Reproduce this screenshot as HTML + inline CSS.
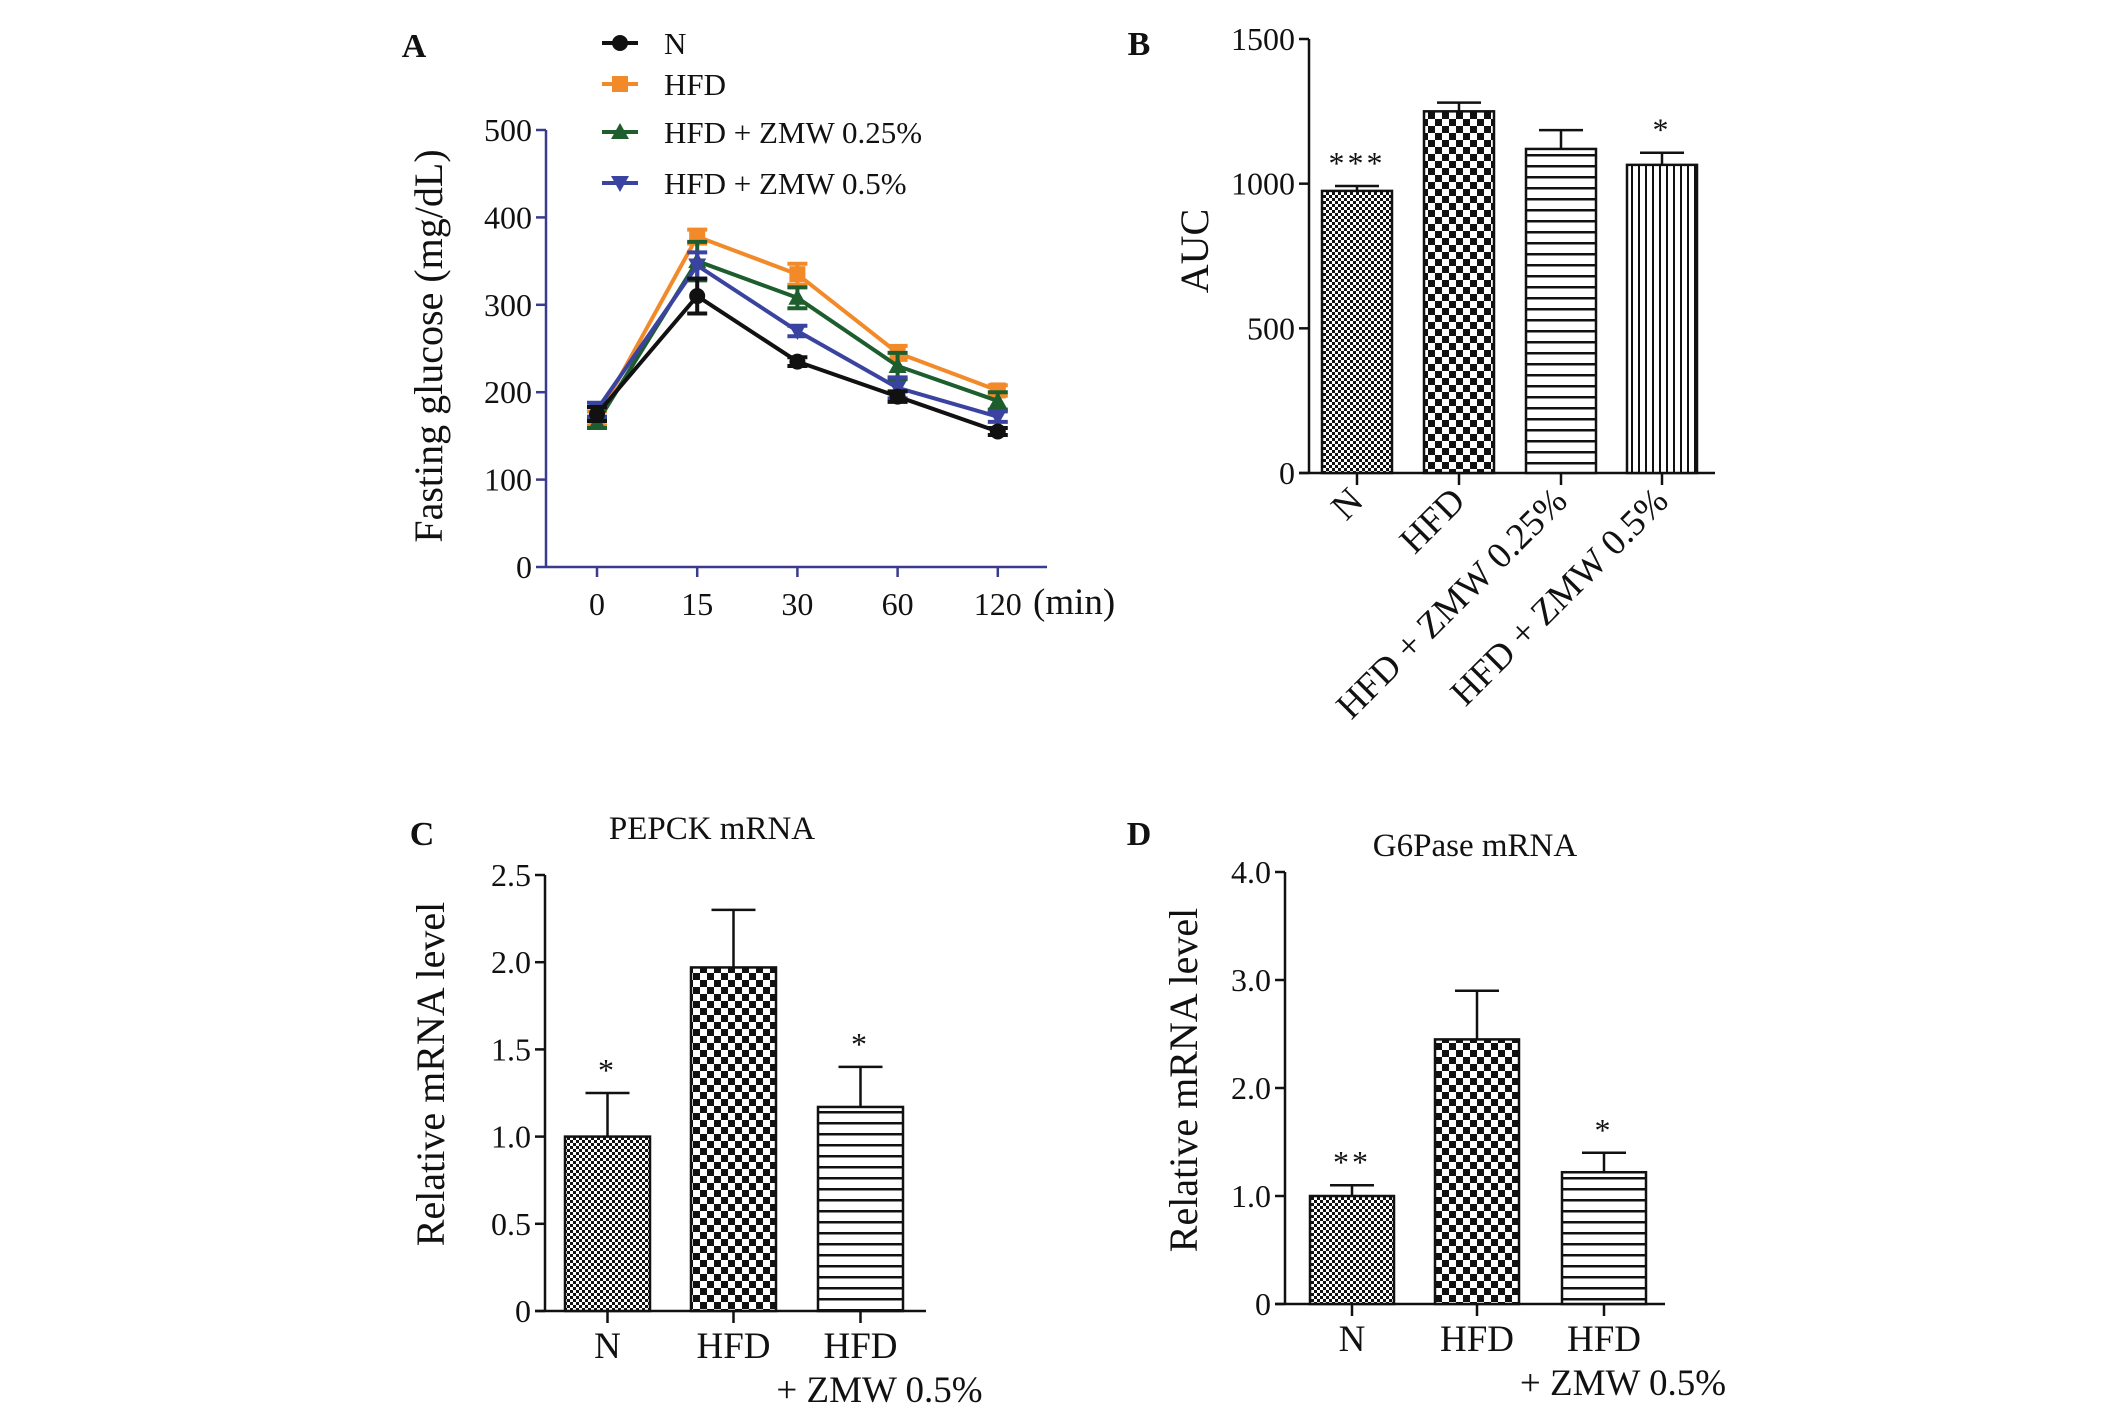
<!DOCTYPE html>
<html><head><meta charset="utf-8"><style>
html,body{margin:0;padding:0;background:#fff;}
svg{display:block;font-family:"Liberation Serif",serif;}
</style></head><body>
<svg id="fig" width="2126" height="1409" viewBox="0 0 2126 1409" xmlns="http://www.w3.org/2000/svg">
<defs>
<pattern id="pN" width="6" height="6" patternUnits="userSpaceOnUse"><rect width="6" height="6" fill="#fff"/><rect width="3" height="3" fill="#111"/><rect x="3" y="3" width="3" height="3" fill="#111"/></pattern>
<pattern id="pH" width="14" height="14" patternUnits="userSpaceOnUse"><rect width="14" height="14" fill="#fff"/><rect width="7" height="7" fill="#111"/><rect x="7" y="7" width="7" height="7" fill="#111"/></pattern>
<pattern id="pHz" width="10" height="11" patternUnits="userSpaceOnUse"><rect width="10" height="11" fill="#fff"/><rect y="0" width="10" height="2.5" fill="#111"/></pattern>
<pattern id="pV" width="7" height="10" patternUnits="userSpaceOnUse"><rect width="7" height="10" fill="#fff"/><rect x="0" width="2" height="10" fill="#111"/></pattern>
</defs>
</svg>
<script>
// Panel A data
const timeLabels = ["0","15","30","60","120"];
const seriesNames = ["N","HFD","HFD + ZMW 0.25%","HFD + ZMW 0.5%"];
const glucoseN = [175,310,235,195,155];
const glucoseHFD = [170,378,335,245,202];
const glucoseZ025 = [165,350,308,230,190];
const glucoseZ05 = [180,345,270,205,172];
const errN = [8,20,5,6,4];
const errHFD = [8,8,12,8,6];
const errZ025 = [6,22,12,15,10];
const errZ05 = [8,15,6,12,6];
const aTicks = [0,100,200,300,400,500];
// Panel B data
const aucCats = ["N","HFD","HFD + ZMW 0.25%","HFD + ZMW 0.5%"];
const aucVals = [975,1250,1120,1065];
const aucErr = [17,30,65,42];
const aucSig = ["***","","","*"];
const bTicks = [0,500,1000,1500];
// Panel C data
const pepCats = ["N","HFD","HFD|+ ZMW 0.5%"];
const pepVals = [1.0,1.97,1.17];
const pepErr = [0.25,0.33,0.23];
const pepSig = ["*","","*"];
const cTicks = ["0","0.5","1.0","1.5","2.0","2.5"];
// Panel D data
const g6Cats = ["N","HFD","HFD|+ ZMW 0.5%"];
const g6Vals = [1.0,2.45,1.22];
const g6Err = [0.1,0.45,0.18];
const g6Sig = ["**","","*"];
const dTicks = ["0","1.0","2.0","3.0","4.0"];

const svg = document.getElementById('fig');
const NS = "http://www.w3.org/2000/svg";
function mk(tag, attrs, parent){const e=document.createElementNS(NS,tag);for(const k in attrs)e.setAttribute(k,attrs[k]);(parent||svg).appendChild(e);return e;}
function txt(s, x, y, size, anchor, name, extra){const t=mk('text',Object.assign({x:x,y:y,'font-size':size,'text-anchor':anchor||'middle',fill:'#111'},extra||{}));t.textContent=s;


return t;}

const TICK=32, TITLE=40, XL=37;
// panel letters
txt("A",414,57,34,'middle','panel-label-a',{'font-weight':'bold'});
txt("B",1139,55,34,'middle','panel-label-b',{'font-weight':'bold'});
txt("C",422,845,34,'middle','panel-label-c',{'font-weight':'bold'});
txt("D",1139,845,34,'middle','panel-label-d',{'font-weight':'bold'});

// ---------- Panel A ----------
const aX0=546, aX1=1047, aYtop=130, aYbot=567;
const ay = v => aYbot - (v/500)*(aYbot-aYtop);
const aXs = [597,697,796,896,998];
const ax = i => aXs[0] + i*100.2;
const blue="#3a3a8e";
let l=mk('line',{x1:aX0,y1:aYtop,x2:aX0,y2:aYbot,stroke:blue,'stroke-width':2.5});


l=mk('line',{x1:aX0,y1:aYbot,x2:aX1,y2:aYbot,stroke:blue,'stroke-width':2.5});


aTicks.forEach(v=>{mk('line',{x1:aX0-10,y1:ay(v),x2:aX0,y2:ay(v),stroke:blue,'stroke-width':2.5});
txt(String(v),aX0-14,ay(v)+11,TICK,'end','a-y-tick-label');});
timeLabels.forEach((s,i)=>{mk('line',{x1:ax(i),y1:aYbot,x2:ax(i),y2:aYbot+10,stroke:blue,'stroke-width':2.5});
txt(s,ax(i),aYbot+48,TICK,'middle','a-x-tick-label');});
txt("(min)",1033,614,XL,'start','a-x-axis-unit');
txt("Fasting glucose (mg/dL)",0,0,TITLE,'middle','a-y-axis-title',{transform:'translate(442,346) rotate(-90)'});

const aSeries=[glucoseN,glucoseHFD,glucoseZ025,glucoseZ05];
const aErrs=[errN,errHFD,errZ025,errZ05];
const colors=["#111","#f28a2a","#1e5e2e","#3a44a0"];
const marks=["circle","square","tri","itri"];
function marker(kind,x,y,c,name){let e;
if(kind==="circle")e=mk('circle',{cx:x,cy:y,r:8,fill:c});
else if(kind==="square")e=mk('rect',{x:x-8,y:y-8,width:16,height:16,fill:c});
else if(kind==="tri")e=mk('polygon',{points:`${x},${y-9} ${x-9},${y+7} ${x+9},${y+7}`,fill:c});
else e=mk('polygon',{points:`${x},${y+9} ${x-9},${y-7} ${x+9},${y-7}`,fill:c});


return e;}
[1,2,3,0].forEach(si=>{
 const d=aSeries[si], er=aErrs[si], c=colors[si];
 const p=mk('polyline',{points:d.map((v,i)=>ax(i)+','+ay(v)).join(' '),fill:'none',stroke:c,'stroke-width':4});
 
 
 d.forEach((v,i)=>{const x=ax(i);
  const g=mk('path',{d:`M${x},${ay(v-er[i])}V${ay(v+er[i])}M${x-10},${ay(v-er[i])}H${x+10}M${x-10},${ay(v+er[i])}H${x+10}`,stroke:c,'stroke-width':4,fill:'none'});
  
  
  marker(marks[si],x,ay(v),c,'data-point');
 });
});
// legend
const legY=[43,84,132,183];
seriesNames.forEach((s,i)=>{
 const g=mk('g',{});
 
 
 mk('line',{x1:602,y1:legY[i],x2:638,y2:legY[i],stroke:colors[i],'stroke-width':4},g);
 marker(marks[i],620,legY[i],colors[i],'legend-marker');
 txt(s,664,legY[i]+11,31,'start','legend-label');
});

// ---------- bar panel helper ----------
function barPanel(o){
 const yv=v=>o.yb-(v/o.max)*(o.yb-o.yt);
 let e=mk('line',{x1:o.x0,y1:o.yt,x2:o.x0,y2:o.yb,stroke:'#111','stroke-width':2.5});
 
 
 e=mk('line',{x1:o.x0-10,y1:o.yb,x2:o.x1,y2:o.yb,stroke:'#111','stroke-width':2.5});
 
 
 o.ticks.forEach(t=>{const v=parseFloat(t);mk('line',{x1:o.x0-10,y1:yv(v),x2:o.x0,y2:yv(v),stroke:'#111','stroke-width':2.5});
  txt(String(t),o.x0-14,yv(v)+11,TICK,'end',o.id+'-y-tick-label');});
 o.vals.forEach((v,i)=>{
  const x=o.bx[i], w=o.bw, cx=x+w/2;
  const r=mk('rect',{x:x,y:yv(v),width:w,height:o.yb-yv(v),fill:'url(#'+o.pats[i]+')',stroke:'#111','stroke-width':2.5});
  
  
  const top=yv(v+o.err[i]);
  e=mk('path',{d:`M${cx},${yv(v)}V${top}M${cx-22},${top}H${cx+22}`,stroke:'#111','stroke-width':2.5,fill:'none'});
  
  
  if(o.sig[i])txt(o.sig[i],cx,top-12,32,'middle','significance-mark',{'letter-spacing':'3'});
  mk('line',{x1:cx,y1:o.yb,x2:cx,y2:o.yb+12,stroke:'#111','stroke-width':2.5});
  if(o.rot){
   txt(o.cats[i],cx+8,o.yb+30,XL,'end',o.id+'-x-tick-label',{transform:`rotate(-45 ${cx+8} ${o.yb+30})`});
  } else {
   const parts=o.cats[i].split('|');
   txt(parts[0],cx,o.yb+47,XL,'middle',o.id+'-x-tick-label');
   if(parts[1])txt(parts[1],cx+19,o.yb+91,XL,'middle',o.id+'-x-tick-label-line2');
  }
 });
}
barPanel({id:'b',x0:1309,x1:1715,yt:39,yb:473,max:1500,ticks:bTicks,vals:aucVals,err:aucErr,sig:aucSig,cats:aucCats,
 bx:[1322,1424,1526,1627],bw:70,pats:['pN','pH','pHz','pV'],rot:true});
txt("AUC",0,0,TITLE,'middle','b-y-axis-title',{transform:'translate(1208,251) rotate(-90)'});

barPanel({id:'c',x0:545,x1:926,yt:875,yb:1311,max:2.5,ticks:cTicks,vals:pepVals,err:pepErr,sig:pepSig,cats:pepCats,
 bx:[565,691,818],bw:85,pats:['pN','pH','pHz'],rot:false});
txt("PEPCK mRNA",712,839,33,'middle','c-chart-title');
txt("Relative mRNA level",0,0,TITLE,'middle','c-y-axis-title',{transform:'translate(444,1074) rotate(-90)'});

barPanel({id:'d',x0:1285,x1:1665,yt:872,yb:1304,max:4.0,ticks:dTicks,vals:g6Vals,err:g6Err,sig:g6Sig,cats:g6Cats,
 bx:[1310,1435,1562],bw:84,pats:['pN','pH','pHz'],rot:false});
txt("G6Pase mRNA",1475,856,33,'middle','d-chart-title');
txt("Relative mRNA level",0,0,TITLE,'middle','d-y-axis-title',{transform:'translate(1197,1080) rotate(-90)'});
</script>
</body></html>
